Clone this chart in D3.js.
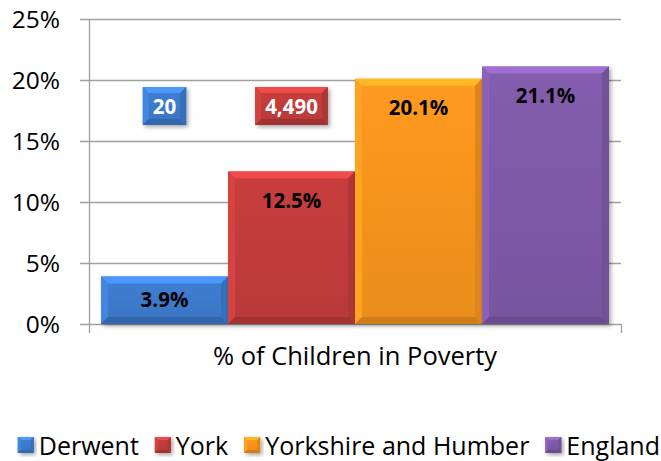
<!DOCTYPE html>
<html>
<head>
<meta charset="utf-8">
<script src="https://cdn.jsdelivr.net/npm/d3@7"></script>
<style>
  body { margin: 0; background: #fff; }
  svg { font-family: "Open Sans", Lato, sans-serif; }
</style>
</head>
<body>
<svg id="chart" width="661" height="461"></svg>
<script>
// data
var seriesNames = ['Derwent', 'York', 'Yorkshire and Humber', 'England'];
var seriesValues = [3.9, 12.5, 20.1, 21.1];
var seriesCounts = [20, 4490, null, null];   // boxed numbers above the first two bars
var seriesColors = ['#3d7bcd', '#c23c3c', '#f7951f', '#7f5aa8'];
var categoryLabel = '% of Children in Poverty';
var yTicks = [0, 5, 10, 15, 20, 25];

var svg = d3.select('#chart');
var plotLeft = 89, plotRight = 621, plotTop = 19, plotBottom = 324;

var xScale = d3.scaleBand()
    .domain(seriesNames)
    .range([101, 609])
    .paddingInner(0);

var yScale = d3.scaleLinear()
    .domain([0, 25])
    .range([plotBottom, plotTop]);

var defs = svg.append('defs');
var shadow = defs.append('filter').attr('id', 'shadow')
    .attr('x', '-10%').attr('y', '-10%').attr('width', '130%').attr('height', '130%');
shadow.append('feDropShadow')
    .attr('dx', 2).attr('dy', 2).attr('stdDeviation', 2)
    .attr('flood-color', '#000').attr('flood-opacity', 0.35);

// gridlines
svg.append('g')
    .selectAll('line')
    .data(yTicks)
    .join('line')
    .attr('x1', plotLeft - 9)
    .attr('x2', plotRight)
    .attr('y1', d => Math.round(yScale(d)) + 0.5)
    .attr('y2', d => Math.round(yScale(d)) + 0.5)
    .attr('stroke', '#a0a0a0')
    .attr('stroke-width', 1.3);

// axis lines
svg.append('line')
    .attr('x1', plotLeft + 0.5).attr('x2', plotLeft + 0.5)
    .attr('y1', plotTop).attr('y2', plotBottom + 9)
    .attr('stroke', '#a0a0a0').attr('stroke-width', 1.3);
svg.append('line')
    .attr('x1', plotRight + 0.5).attr('x2', plotRight + 0.5)
    .attr('y1', plotBottom).attr('y2', plotBottom + 9)
    .attr('stroke', '#a0a0a0').attr('stroke-width', 1.3);

// y tick labels
svg.append('g')
    .selectAll('text')
    .data(yTicks)
    .join('text')
    .attr('x', 60)
    .attr('y', d => yScale(d) + 8.5)
    .attr('text-anchor', 'end')
    .attr('font-size', 24.5)
    .attr('fill', '#000')
    .text(d => d + '%');

// bevelled box helper
function bevelBox(g, x, y, w, h, color, b) {
    var c = d3.color(color);
    var gid = 'grad' + Math.random().toString(36).slice(2, 8);
    var grad = defs.append('linearGradient').attr('id', gid)
        .attr('x1', 0).attr('y1', 0).attr('x2', 0).attr('y2', 1);
    grad.append('stop').attr('offset', '0%').attr('stop-color', c.brighter(0.1));
    grad.append('stop').attr('offset', '100%').attr('stop-color', c.darker(0.15));
    g.append('rect')
        .attr('x', x).attr('y', y).attr('width', w).attr('height', h)
        .attr('fill', 'url(#' + gid + ')')
        .attr('filter', 'url(#shadow)');
    var bb = Math.min(b, h / 2, w / 2);
    // top
    g.append('polygon')
        .attr('points', [[x, y], [x + w, y], [x + w - bb, y + bb], [x + bb, y + bb]].join(' '))
        .attr('fill', c.brighter(0.6));
    // left
    g.append('polygon')
        .attr('points', [[x, y], [x + bb, y + bb], [x + bb, y + h - bb], [x, y + h]].join(' '))
        .attr('fill', c.brighter(0.25));
    // right
    g.append('polygon')
        .attr('points', [[x + w, y], [x + w, y + h], [x + w - bb, y + h - bb], [x + w - bb, y + bb]].join(' '))
        .attr('fill', c.darker(0.3));
    // bottom
    g.append('polygon')
        .attr('points', [[x, y + h], [x + w, y + h], [x + w - bb, y + h - bb], [x + bb, y + h - bb]].join(' '))
        .attr('fill', c.darker(0.5));
}

// bars
var barsG = svg.append('g');
seriesNames.forEach(function(name, i) {
    var x = xScale(name);
    var y = yScale(seriesValues[i]);
    var g = barsG.append('g');
    bevelBox(g, x, y, xScale.bandwidth(), yScale(0) - y, seriesColors[i], 7);
    g.append('text')
        .attr('x', x + xScale.bandwidth() / 2)
        .attr('y', Math.min(y + 36, (y + yScale(0)) / 2 + 6.5))
        .attr('text-anchor', 'middle')
        .attr('font-size', 20.5)
        .attr('font-weight', 'bold')
        .attr('fill', '#000')
        .text(seriesValues[i].toFixed(1) + '%');
});

// boxed counts
var countG = svg.append('g');
seriesNames.forEach(function(name, i) {
    if (seriesCounts[i] == null) return;
    var cx = xScale(name) + xScale.bandwidth() / 2;
    var label = d3.format(',')(seriesCounts[i]);
    var t = countG.append('text')
        .attr('x', cx)
        .attr('y', 114)
        .attr('text-anchor', 'middle')
        .attr('font-size', 20.5)
        .attr('font-weight', 'bold')
        .attr('fill', '#fff')
        .text(label);
    var tw = t.node().getComputedTextLength();
    var g = countG.insert('g', function() { return t.node(); });
    bevelBox(g, cx - tw / 2 - 10, 87, tw + 20, 38, seriesColors[i], 6);
});

// category label
svg.append('text')
    .attr('x', 355)
    .attr('y', 365)
    .attr('text-anchor', 'middle')
    .attr('font-size', 25.5)
    .attr('fill', '#000')
    .text(categoryLabel);

// legend, laid out then pushed against the right edge
var legendG = svg.append('g');
var lx = 0;
seriesNames.forEach(function(name, i) {
    var g = legendG.append('g');
    bevelBox(g, lx, 437, 16, 16, seriesColors[i], 3);
    var t = g.append('text')
        .attr('x', lx + 21)
        .attr('y', 455)
        .attr('font-size', 25)
        .attr('fill', '#000')
        .text(name);
    lx += 21 + t.node().getComputedTextLength() + 16;
});
var legendWidth = lx - 16;
legendG.attr('transform', 'translate(' + (660 - legendWidth) + ',0)');
</script>
</body>
</html>
